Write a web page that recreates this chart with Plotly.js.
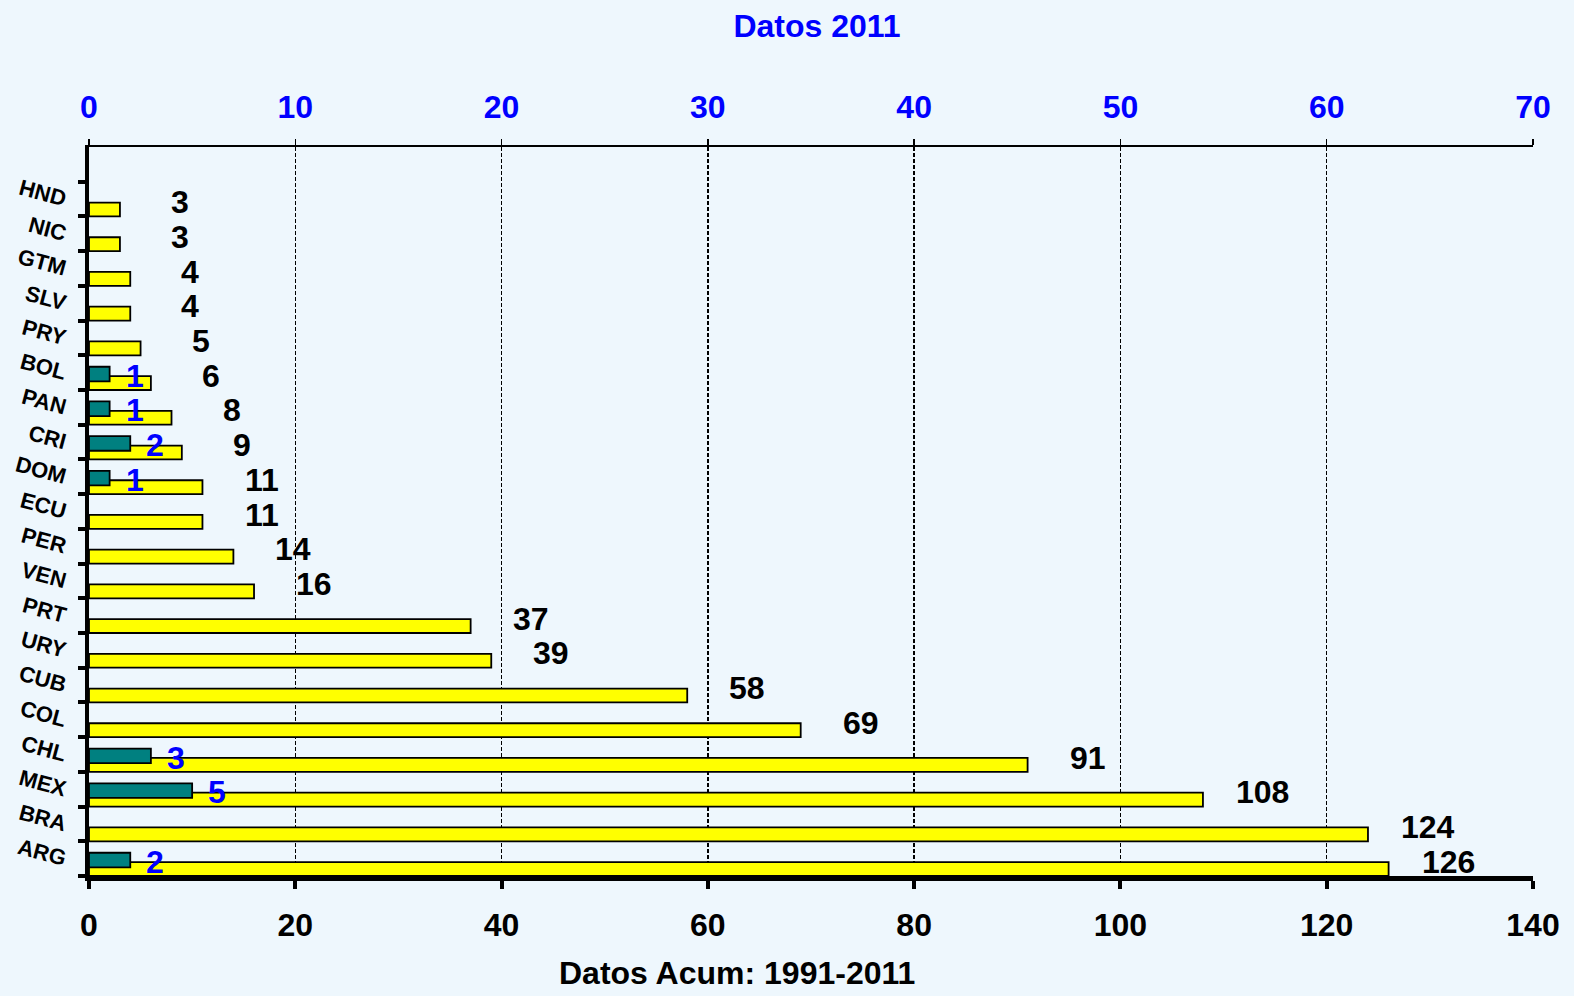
<!DOCTYPE html>
<html>
<head>
<meta charset="utf-8">
<script src="https://cdn.plot.ly/plotly-3.0.1.min.js"></script>
<style>html,body{margin:0;padding:0;background:#EEF7FD;}#chart{width:1574px;height:996px;}</style>
</head>
<body>
<div id="chart"></div>
<script>
// Categories from bottom to top
const countries = ["ARG","BRA","MEX","CHL","COL","CUB","URY","PRT","VEN","PER","ECU","DOM","CRI","PAN","BOL","PRY","SLV","GTM","NIC","HND"];
// Accumulated data 1991-2011 (bottom axis)
const acum = [126,124,108,91,69,58,39,37,16,14,11,11,9,8,6,5,4,4,3,3];
// Data 2011 (top axis); null = no bar
const d2011 = [2,null,5,3,null,null,null,null,null,null,null,1,2,1,1,null,null,null,null,null];
const bottomTicks = [0,20,40,60,80,100,120,140];
const topTicks = [0,10,20,30,40,50,60,70];

const FONT = "Liberation Sans, Arial, sans-serif";
const BG = "#EEF7FD";

const traces = [
  {
    type: "bar", orientation: "h",
    x: acum, y: countries,
    xaxis: "x", yaxis: "y",
    width: 0.4, offset: -0.5,
    marker: {color: "#FFFF00", line: {color: "#000000", width: 1.8}},
    hoverinfo: "x+y"
  },
  {
    type: "bar", orientation: "h",
    x: d2011, y: countries,
    xaxis: "x2", yaxis: "y",
    width: 0.42, offset: -0.25,
    marker: {color: "#008080", line: {color: "#000000", width: 1.8}},
    hoverinfo: "x+y"
  }
];

const annotations = [];
acum.forEach((v, i) => {
  annotations.push({
    x: v, y: countries[i], xref: "x", yref: "y",
    text: String(v), showarrow: false,
    xanchor: "center", yanchor: "middle",
    xshift: 60, yshift: -3,
    font: {family: FONT, size: 32, color: "#000000", weight: "bold"}
  });
});
d2011.forEach((v, i) => {
  if (v === null) return;
  annotations.push({
    x: v, y: countries[i], xref: "x2", yref: "y",
    text: String(v), showarrow: false,
    xanchor: "center", yanchor: "middle",
    xshift: 25, yshift: -3,
    font: {family: FONT, size: 32, color: "#0000FF", weight: "bold"}
  });
});
annotations.push({
  x: 0.449, y: -0.133, xref: "paper", yref: "paper",
  text: "<b>Datos Acum: 1991-2011</b>", showarrow: false,
  xanchor: "center", yanchor: "middle",
  font: {family: FONT, size: 32, color: "#000000"}
});

const layout = {
  width: 1574, height: 996,
  paper_bgcolor: BG, plot_bgcolor: BG,
  margin: {l: 89, r: 41, t: 147, b: 120},
  showlegend: false,
  title: {
    text: "<b>Datos 2011</b>",
    x: 817/1574, xref: "container", xanchor: "center",
    y: 1 - 26/996, yref: "container", yanchor: "middle",
    font: {family: FONT, size: 32, color: "#0000FF"}
  },
  xaxis: {
    range: [0, 140], tickvals: bottomTicks, ticktext: bottomTicks.map(String),
    showline: true, linecolor: "#000000", linewidth: 5,
    ticks: "outside", ticklen: 8, tickwidth: 4, tickcolor: "#000000",
    showgrid: true, gridcolor: "#000000", griddash: "4px,2px", gridwidth: 1.3,
    zeroline: false, ticklabelstandoff: 9,
    tickfont: {family: FONT, size: 32, color: "#000000", weight: "bold"}
  },
  xaxis2: {
    range: [0, 70], tickvals: topTicks, ticktext: topTicks.map(String),
    overlaying: "x", side: "top", anchor: "y",
    showline: true, linecolor: "#000000", linewidth: 2,
    ticks: "outside", ticklen: 6, tickwidth: 1.5, tickcolor: "#000000",
    showgrid: false, zeroline: false, ticklabelstandoff: 8,
    tickfont: {family: FONT, size: 32, color: "#0000FF", weight: "bold"}
  },
  yaxis: {
    type: "category", range: [-0.5, 20.5],
    showline: true, linecolor: "#000000", linewidth: 4,
    ticks: "outside", tickson: "boundaries", ticklen: 7, tickwidth: 4, tickcolor: "#000000",
    showgrid: false, zeroline: false,
    tickangle: 15, ticklabelstandoff: 14,
    tickfont: {family: FONT, size: 22, color: "#000000", weight: "bold"}
  },
  annotations: annotations,
  bargap: 0
};

Plotly.newPlot("chart", traces, layout, {displayModeBar: false, staticPlot: true});
</script>
</body>
</html>
